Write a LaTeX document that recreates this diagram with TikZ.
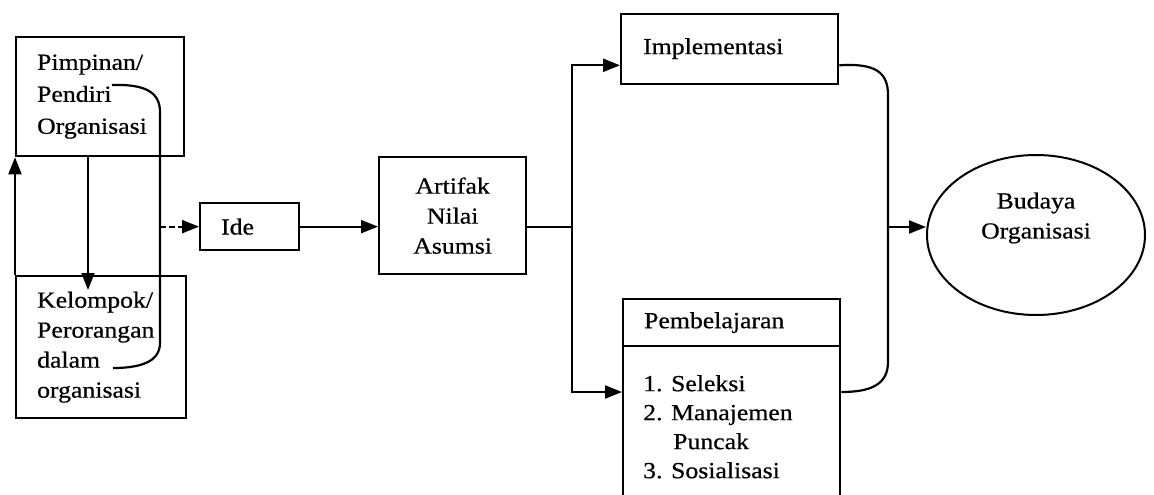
\documentclass[tikz,border=0pt]{standalone}
\usepackage{fontspec}
\setmainfont{Liberation Serif}[FakeStretch=1.12,FakeBold=0.6]
\usetikzlibrary{arrows.meta,calc,shapes.geometric}
\begin{document}
\begin{tikzpicture}[x=1pt,y=-1pt,
  every node/.style={font=\fontsize{23}{30}\selectfont},
  ln/.style={line width=2.2pt},
  arr/.style={ln,-{Triangle[length=17pt,width=13pt]}},
  box/.style={draw,line width=2.3pt,anchor=north west,inner ysep=0pt,align=left},
]
\useasboundingbox (0,0) rectangle (1154,495);
\fill[white] (0,0) rectangle (1154,495);

% nodes
\node[box,minimum width=168pt,minimum height=119pt,text width=126pt,inner xsep=21pt] (pim) at (15,36)
  {Pimpinan/\\[2pt]Pendiri\\[2pt]Organisasi};
\node[box,minimum width=170pt,minimum height=142pt,text width=128pt,inner xsep=21pt] (kel) at (15,275)
  {Kelompok/\\Perorangan\\dalam\\organisasi};
\node[box,minimum width=99pt,minimum height=47pt,text width=57pt,inner xsep=21pt] (ide) at (199,202) {Ide};
\node[box,minimum width=147pt,minimum height=117pt,text width=127pt,inner xsep=10pt,align=center] (art) at (378,156)
  {Artifak\\Nilai\\Asumsi};
\node[box,minimum width=217pt,minimum height=70pt,text width=173pt,inner xsep=22pt] (imp) at (620,13)
  {\raisebox{6pt}{Implementasi}};
\node[box,minimum width=217pt,minimum height=47pt,text width=175pt,inner xsep=21pt] (pemh) at (622,298)
  {Pembelajaran};
\node[box,minimum width=217pt,minimum height=200pt] (peml) at (622,345) {};
\node[anchor=north west,inner sep=0pt,align=left,font=\fontsize{23}{29}\selectfont] (pemt) at (643,375)
  {1. Seleksi\\2. Manajemen\\\hspace*{30pt}Puncak\\3. Sosialisasi};
\node[draw,ellipse,line width=2pt,minimum width=218pt,minimum height=160pt] (bud) at (1036,235) {};
\node[align=center,inner sep=0pt] (budt) at (1036,218) {Budaya\\Organisasi};

% helper coordinates
\coordinate (c1) at (112,85);
\coordinate (c2) at (113,368);
\coordinate (vx) at (160,0);
\coordinate (dx) at (88,0);
\coordinate (sx) at (572,0);
\coordinate (rj) at (888,227);
\coordinate (ia) at ($(imp.south west)+(0,-20)$);
\coordinate (ib) at ($(imp.south east)+(0,-20)$);
\coordinate (pa) at ($(peml.north west)+(0,47)$);
\coordinate (pb) at ($(peml.north east)+(0,47)$);

% connectors
\draw[arr] (kel.north west) -- (pim.south west);
\draw[arr,shorten >=-15pt] (pim.south -| dx) -- (kel.north -| dx);
\draw[ln] (c1) .. controls (145,84) and (160,92) .. (160,112) -- (160,343) .. controls (160,362) and (140,368) .. (c2);
\draw[arr,dash pattern=on 6pt off 3pt] (ide.west -| vx) -- (ide.west);
\draw[arr] (ide.east) -- (art.west |- ide.east);
\draw[ln] (art.east |- ide.east) -- (ide.east -| sx);
\draw[arr] (ide.east -| sx) |- (ia);
\draw[arr] (ide.east -| sx) |- (pa);
\draw[ln] (ib) .. controls (875,63) and (888,72) .. (888,95) -- (888,362) .. controls (888,385) and (870,392) .. (pb);
\draw[arr] (rj) -- (rj -| bud.west);
\end{tikzpicture}
\end{document}
